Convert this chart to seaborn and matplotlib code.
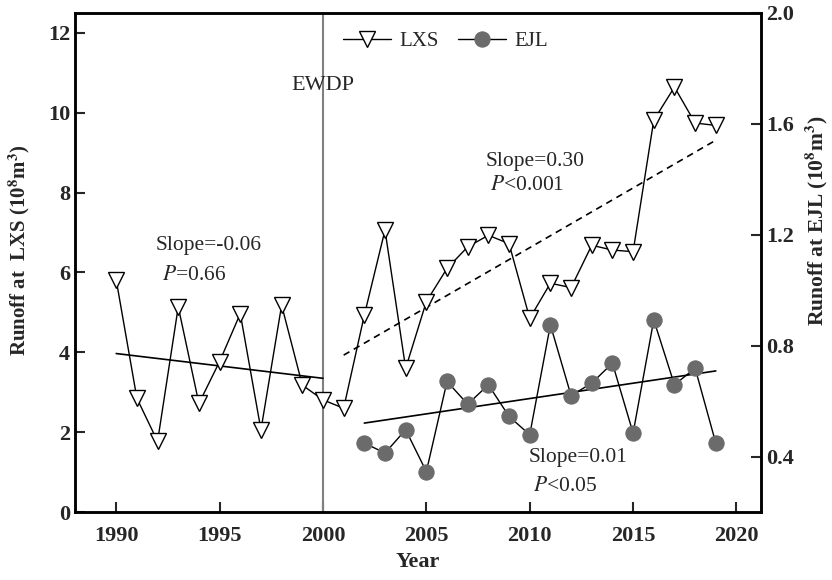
import matplotlib
matplotlib.use('Agg')
import matplotlib.pyplot as plt
import seaborn as sns
import pandas as pd
import numpy as np

sns.set_theme(style='ticks')
plt.rcParams['font.family'] = ['Liberation Serif', 'DejaVu Serif']
plt.rcParams['mathtext.fontset'] = 'stix'

# --- data ---
years_lxs = list(range(1990, 2020))
lxs = [5.81, 2.85, 1.77, 5.14, 2.72, 3.77, 4.97, 2.06, 5.18, 3.18,
       2.81, 2.60, 4.93, 7.06, 3.60, 5.27, 6.10, 6.64, 6.93, 6.72,
       4.85, 5.73, 5.62, 6.68, 6.56, 6.52, 9.81, 10.64, 9.74, 9.68]
years_ejl = list(range(2002, 2020))
ejl = [0.449, 0.413, 0.497, 0.346, 0.671, 0.589, 0.659, 0.545, 0.479, 0.875,
       0.620, 0.665, 0.737, 0.485, 0.893, 0.659, 0.719, 0.449]

trend_pre_x = [1990, 2000]
trend_pre_y = [3.97, 3.35]
trend_post_x = [2001, 2019]
trend_post_y = [3.93, 9.31]
trend_ejl_x = [2002, 2019]
trend_ejl_y = [0.521, 0.709]

df_lxs = pd.DataFrame({'year': years_lxs, 'runoff': lxs})
df_ejl = pd.DataFrame({'year': years_ejl, 'runoff': ejl})

fig = plt.figure(figsize=(8.32, 5.8), dpi=100)
ax = fig.add_axes([0.09, 0.117, 0.825, 0.861])
ax2 = ax.twinx()

# LXS on left axis
sns.lineplot(data=df_lxs, x='year', y='runoff', ax=ax, color='black', linewidth=1,
             marker='v', markersize=12, markerfacecolor='white', markeredgecolor='black',
             markeredgewidth=1, label='LXS', zorder=3)
sns.lineplot(x=trend_pre_x, y=trend_pre_y, ax=ax, color='black', linewidth=1.2, zorder=2)
sns.lineplot(x=trend_post_x, y=trend_post_y, ax=ax, color='black', linewidth=1.2,
             linestyle=(0, (4, 3)), zorder=2)
ax.axvline(2000, color='#808080', linewidth=1.5, zorder=1)

# EJL on right axis
sns.lineplot(data=df_ejl, x='year', y='runoff', ax=ax2, color='black', linewidth=1,
             marker='o', markersize=11, markerfacecolor='#6b6b6b', markeredgecolor='#6b6b6b',
             label='EJL', zorder=3)
sns.lineplot(x=trend_ejl_x, y=trend_ejl_y, ax=ax2, color='black', linewidth=1.2, zorder=2)

ax.set_xlim(1988, 2021.2)
ax.set_ylim(0, 12.5)
ax2.set_ylim(0.2, 2.0)
ax.set_xticks(range(1990, 2021, 5))
ax.set_yticks(range(0, 13, 2))
ax2.set_yticks([0.4, 0.8, 1.2, 1.6, 2.0])
ax2.set_yticklabels(['0.4', '0.8', '1.2', '1.6', '2.0'])

for a in (ax, ax2):
    a.tick_params(direction='in', length=7, width=1.5, labelsize=16)
    for lbl in a.get_xticklabels() + a.get_yticklabels():
        lbl.set_fontweight('bold')
    for sp in a.spines.values():
        sp.set_linewidth(1.8)
        sp.set_color('black')
ax.tick_params(axis='x', pad=10)

ax.set_xlabel('Year', fontsize=16, fontweight='bold', labelpad=4)
ax.set_ylabel(r'Runoff at  LXS (10$^{\mathbf{8}}$m$^{\mathbf{3}}$)', fontsize=15,
              fontweight='bold')
ax2.set_ylabel(r'Runoff at EJL (10$^{\mathbf{8}}$m$^{\mathbf{3}}$)', fontsize=15.5,
               fontweight='bold')
ax.yaxis.set_label_coords(-0.063, 0.525)
ax2.yaxis.set_label_coords(1.06, 0.583)

# legend
h1, l1 = ax.get_legend_handles_labels()
h2, l2 = ax2.get_legend_handles_labels()
if ax2.get_legend():
    ax2.get_legend().remove()
ax.legend(h1 + h2, l1 + l2, loc='upper center', bbox_to_anchor=(0.54, 1.0), ncol=2,
          frameon=False, fontsize=15, handlelength=2.3, columnspacing=0.9, handletextpad=0.4)
ax2.set_zorder(ax.get_zorder() + 1)
ax2.patch.set_visible(False)

# annotations
ax.text(2000.0, 10.68, 'EWDP', ha='center', va='center', fontsize=16)
ax.text(1991.9, 6.68, 'Slope=-0.06', fontsize=15.5, va='center')
ax.text(1992.2, 5.93, r'$\it{P}$=0.66', fontsize=15.5, va='center')
ax.text(2007.85, 8.77, 'Slope=0.30', fontsize=15.5, va='center')
ax.text(2008.1, 8.18, r'$\it{P}$<0.001', fontsize=15.5, va='center')
ax.text(2009.95, 1.36, 'Slope=0.01', fontsize=15.5, va='center')
ax.text(2010.15, 0.63, r'$\it{P}$<0.05', fontsize=15.5, va='center')

plt.savefig('out.png', dpi=100, facecolor='white')
plt.close()
